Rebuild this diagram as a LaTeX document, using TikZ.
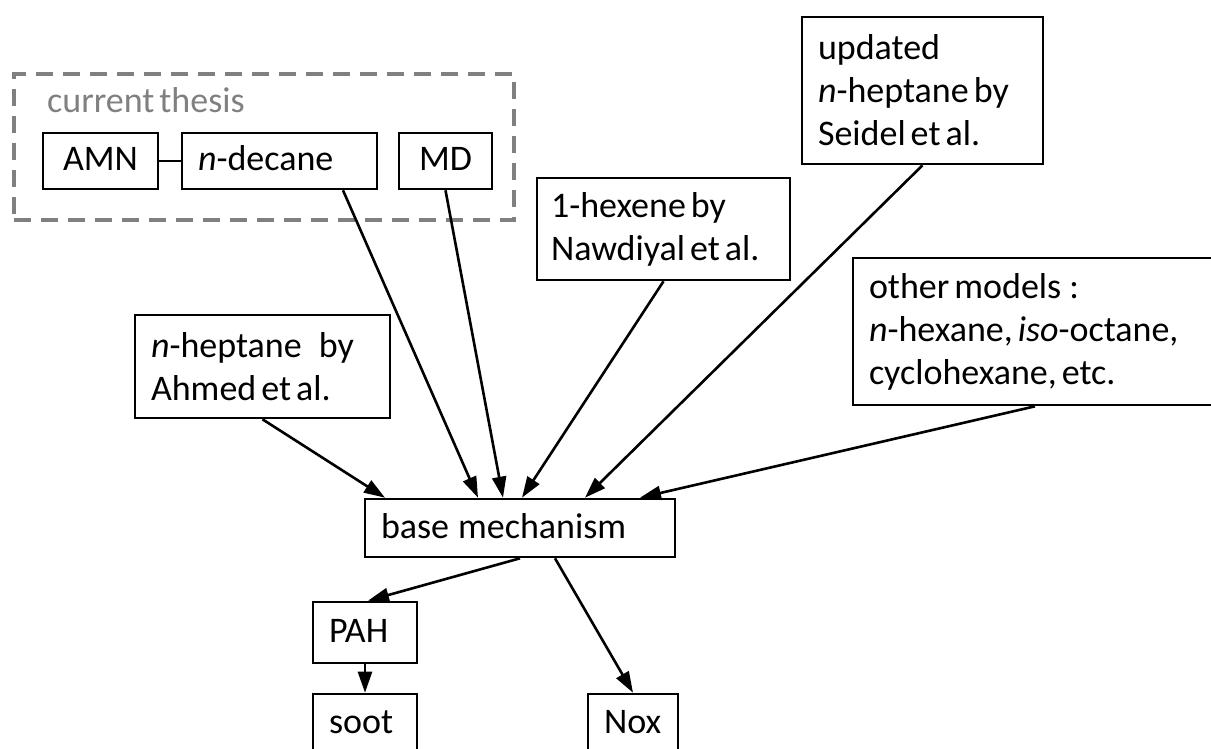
\documentclass[tikz,border=0pt]{standalone}
\usepackage{fontspec}
\setmainfont{Carlito}[WordSpace=0.6]
\usetikzlibrary{arrows.meta,calc}
\newcommand\boxfont{\fontsize{36}{43}\selectfont}
\begin{document}
\begin{tikzpicture}[x=1pt,y=-1pt,
  bx/.style={draw, line width=2.6pt, inner xsep=16pt, inner ysep=0pt, font=\boxfont, align=left,
    execute at begin node={\spaceskip=5pt\relax}},
  one/.style={text height=25pt, text depth=5pt},
  arr/.style={line width=2.6pt, -{Triangle[length=21pt,width=14pt]}},
  ln/.style={line width=2.6pt},
  dbox/.style={draw=black!50, line width=3.5pt, dash pattern=on 17pt off 10pt}]
\useasboundingbox (0,0) rectangle (1211,749);
\clip (0,0) rectangle (1211,749);
\node[dbox, minimum width=500pt, minimum height=146pt, inner sep=0pt] (thesis) at (264,147) {};
\node[font=\boxfont, text=black!50, anchor=base west, inner sep=0pt] (lbl) at (47,113) {current thesis};
\node[bx, one, align=center, minimum width=115pt, minimum height=56pt, text width=83pt] (amn) at (100.5,161) {AMN};
\node[bx, one, minimum width=195pt, minimum height=56pt, text width=163pt] (ndec) at (279.5,161) {\textit{n}-decane};
\node[bx, one, align=center, minimum width=93pt, minimum height=56pt, text width=61pt] (md) at (445.5,161) {MD};
\node[bx, minimum width=253pt, minimum height=102pt, text width=225pt, inner xsep=14pt] (hex) at (663.5,229) {1-hexene by\\Nawdiyal et al.};
\node[bx, minimum width=241pt, minimum height=147pt, text width=209pt] (upd) at (922.5,90.5) {updated\\\textit{n}-heptane by\\Seidel et al.};
\node[bx, minimum width=382pt, minimum height=147pt, text width=350pt] (oth) at (1044,331.5) {other models\hspace{8pt}:\\\textit{n}-hexane, \textit{iso}-octane,\\cyclohexane, etc.};
\node[bx, minimum width=255pt, minimum height=103pt, text width=223pt] (ahm) at (262.5,366.5) {\textit{n}-heptane\hspace{17pt}by\\Ahmed et al.};
\node[bx, one, minimum width=310pt, minimum height=58pt, text width=278pt] (base) at (520,528) {base\hspace{9pt}mechanism};
\node[bx, one, minimum width=104pt, minimum height=61pt, text width=72pt] (pah) at (365,632.5) {PAH};
\node[bx, one, minimum width=104pt, minimum height=58pt, text width=72pt] (soot) at (365,723) {soot};
\node[bx, one, minimum width=90pt, minimum height=58pt, text width=58pt] (nox) at (633,723) {Nox};
\draw[ln] (amn) -- (ndec);
\draw[arr] ([xshift=63.5pt]ndec.south) -- ([xshift=-42pt]base.north);
\draw[arr] (md.south) -- ([xshift=-17pt]base.north);
\draw[arr] (hex.south) -- ([xshift=2pt]base.north);
\draw[arr] (upd.south) -- ([xshift=65pt]base.north);
\draw[arr] ([xshift=-9pt]oth.south) -- ([xshift=120pt]base.north);
\draw[arr] (ahm.south) -- ([xshift=-135pt]base.north);
\draw[arr] (base.south) -- ([xshift=3pt]pah.north);
\draw[arr] ([xshift=35pt]base.south) -- (nox.north);
\draw[arr] (pah.south) -- (soot.north);
\end{tikzpicture}
\end{document}
